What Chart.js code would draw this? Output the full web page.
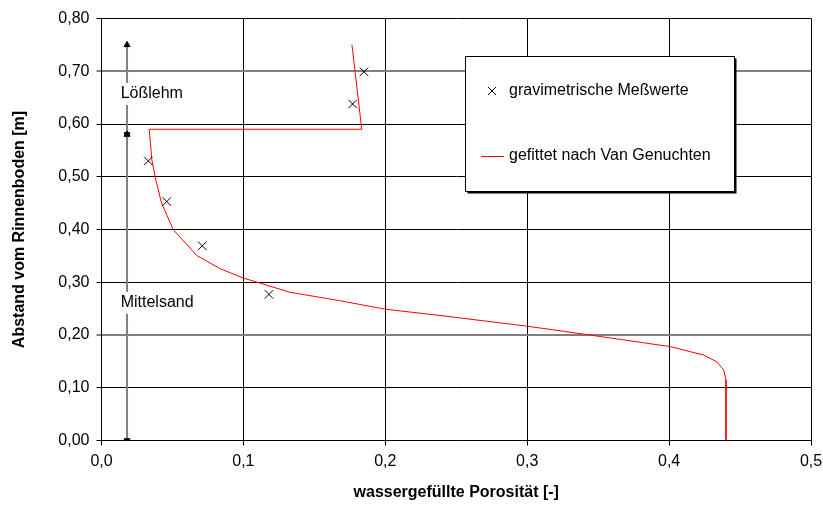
<!DOCTYPE html>
<html>
<head>
<meta charset="utf-8">
<script src="https://cdn.jsdelivr.net/npm/chart.js@4/dist/chart.umd.min.js"></script>
<style>
  html, body { margin: 0; padding: 0; background: #fff; }
</style>
</head>
<body>
<canvas id="chart" width="823" height="510"></canvas>
<script>
// measured points (gravimetric)
const measX = [0.185, 0.177, 0.033, 0.046, 0.071, 0.118];
const measY = [0.699, 0.638, 0.530, 0.453, 0.369, 0.277];

// van Genuchten fit
const fitX = [0.1765, 0.1834, 0.0336, 0.0355, 0.0383, 0.0423, 0.0505, 0.067, 0.0834, 0.0999, 0.1328, 0.168, 0.1998, 0.2386, 0.299, 0.3232, 0.4008, 0.4243, 0.4337, 0.4384, 0.4401, 0.4401];
const fitY = [0.750, 0.590, 0.590, 0.532, 0.494, 0.450, 0.400, 0.351, 0.326, 0.308, 0.281, 0.265, 0.249, 0.237, 0.217, 0.208, 0.178, 0.162, 0.149, 0.134, 0.115, 0.0];

// soil layers
const layerX = 0.018;
const layerBounds = [0, 0.58, 0.75];
const layerNames = ['Mittelsand', 'Lößlehm'];
const layerLabelX = 0.0135;
const layerLabelY = [0.261, 0.657];

const xTicks = [0, 0.1, 0.2, 0.3, 0.4, 0.5];
const yTicks = [0, 0.1, 0.2, 0.3, 0.4, 0.5, 0.6, 0.7, 0.8];
const grayLines = [0.2, 0.7];

const seriesNames = ['gravimetrische Meßwerte', 'gefittet nach Van Genuchten'];
const FONT = 'Arial, "Liberation Sans", sans-serif';

const toPts = (xs, ys) => xs.map((x, i) => ({x: x, y: ys[i]}));
const isGray = v => grayLines.some(g => Math.abs(g - v) < 1e-6);

let datasets = [
  {
    label: seriesNames[0], legend: 'cross',
    data: toPts(measX, measY),
    showLine: false,
    pointStyle: 'crossRot', pointRadius: 6, borderColor: '#000', borderWidth: 1,
    order: 1
  },
  {
    label: seriesNames[1], legend: 'line',
    data: toPts(fitX, fitY),
    showLine: true, tension: 0,
    borderColor: '#ff0000', borderWidth: 1, pointRadius: 0,
    order: 2
  }
];
// layer arrows
for (let i = 0; i < layerNames.length; i++) {
  datasets.push({
    label: layerNames[i],
    data: [{x: layerX, y: layerBounds[i]}, {x: layerX, y: layerBounds[i + 1]}],
    showLine: true,
    borderColor: '#808080', borderWidth: 2,
    pointStyle: 'triangle', pointRadius: 3.5, pointRotation: [180, 0],
    pointBackgroundColor: '#000', pointBorderColor: '#000', pointBorderWidth: 1,
    order: 3
  });
}

const extras = {
  id: 'extras',
  afterDatasetsDraw(chart) {
    const c = chart.ctx;
    const xs = chart.scales.x, ys = chart.scales.y;
    c.save();
    // layer labels with white background
    c.font = '16px ' + FONT;
    c.textBaseline = 'middle';
    c.textAlign = 'left';
    layerNames.forEach((name, i) => {
      const px = xs.getPixelForValue(layerLabelX);
      const py = ys.getPixelForValue(layerLabelY[i]);
      const w = c.measureText(name).width;
      c.fillStyle = '#fff';
      c.fillRect(px - 2, py - 11, w + 4, 22);
      c.fillStyle = '#000';
      c.fillText(name, px, py);
    });
    // legend box
    const bx = 465.5, by = 56.5, bw = 269, bh = 135;
    c.fillStyle = '#000';
    c.fillRect(bx + 2, by + 2, bw, bh);
    c.fillStyle = '#fff';
    c.fillRect(bx, by, bw, bh);
    c.strokeStyle = '#000';
    c.lineWidth = 1;
    c.strokeRect(bx, by, bw, bh);
    const rows = [91, 156];
    chart.data.datasets.filter(d => d.legend).forEach((d, i) => {
      const y = rows[i];
      if (d.legend === 'cross') {
        c.strokeStyle = '#000';
        c.lineWidth = 1;
        c.beginPath();
        c.moveTo(488, y - 4); c.lineTo(496, y + 4);
        c.moveTo(496, y - 4); c.lineTo(488, y + 4);
        c.stroke();
      } else {
        c.strokeStyle = d.borderColor;
        c.lineWidth = 1;
        c.beginPath();
        c.moveTo(481, y + 0.5); c.lineTo(504, y + 0.5);
        c.stroke();
      }
      c.fillStyle = '#000';
      c.fillText(d.label, 509, y);
    });
    c.restore();
  }
};

let chart = new Chart(document.getElementById('chart'), {
  type: 'scatter',
  data: { datasets: datasets },
  options: {
    responsive: false,
    animation: false,
    devicePixelRatio: 1,
    layout: { padding: { left: 0, right: 12, top: 18.5, bottom: 0 } },
    plugins: { legend: { display: false }, tooltip: { enabled: false } },
    scales: {
      x: {
        type: 'linear', min: 0, max: 0.5,
        afterBuildTicks: s => { s.ticks = xTicks.map(v => ({value: v})); },
        afterFit: s => { s.height = 69.5; s.paddingLeft = 0; s.paddingRight = 0; },
        ticks: {
          color: '#000', padding: 6,
          font: { family: FONT, size: 16 },
          callback: v => v.toFixed(1).replace('.', ',')
        },
        grid: { color: '#000', lineWidth: 1, tickLength: 5 },
        border: { color: '#000', width: 1 },
        title: {
          display: true, text: 'wassergefüllte Porosität [-]', color: '#000',
          font: { family: FONT, size: 16, weight: 'bold' },
          padding: { top: 0, bottom: 7.5 }
        }
      },
      y: {
        type: 'linear', min: 0, max: 0.8,
        afterBuildTicks: s => { s.ticks = yTicks.map(v => ({value: v})); },
        afterFit: s => { s.width = 101.5; s.paddingTop = 0; s.paddingBottom = 0; },
        ticks: {
          color: '#000', padding: 7,
          font: { family: FONT, size: 16 },
          callback: v => v.toFixed(2).replace('.', ',')
        },
        grid: {
          color: c => isGray(c.tick.value) ? '#808080' : '#000',
          lineWidth: c => isGray(c.tick.value) ? 2 : 1,
          tickLength: 5
        },
        border: { color: '#000', width: 1 },
        title: {
          display: true, text: 'Abstand vom Rinnenboden [m]', color: '#000',
          font: { family: FONT, size: 16, weight: 'bold' },
          padding: { top: 9.5, bottom: 0 }
        }
      }
    }
  },
  plugins: [extras]
});
</script>
</body>
</html>
